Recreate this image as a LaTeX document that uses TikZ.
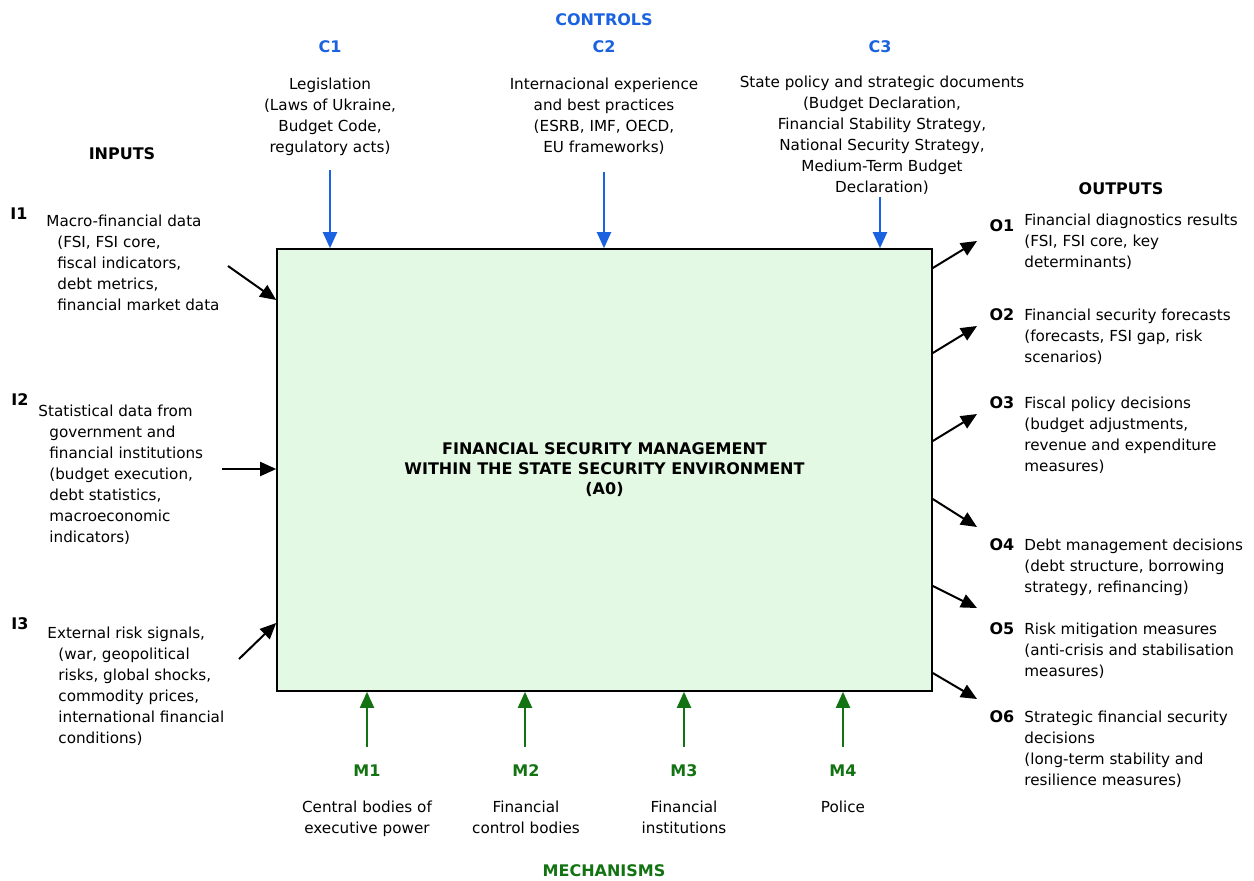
\documentclass[tikz,border=0pt]{standalone}
\usepackage{fontspec}
\setmainfont{DejaVu Sans}
\usetikzlibrary{arrows.meta}

\definecolor{ctlblue}{RGB}{26,98,224}
\definecolor{mechgreen}{RGB}{19,115,19}
\definecolor{boxgreen}{RGB}{227,249,227}

\tikzset{
  txt/.style={font=\fontsize{7.6}{10.5}\selectfont, inner sep=0pt},
  hdr/.style={font=\fontsize{8}{10}\selectfont\bfseries, inner sep=0pt},
  arr/.style={line width=1pt, -{Triangle[length=8pt,width=7pt]}},
}

\begin{document}
\begin{tikzpicture}[x=0.5pt,y=-0.5pt]
  \useasboundingbox (0,0) rectangle (1254,880);
  \node[draw, line width=0.8pt, fill=boxgreen, minimum width=327.5pt,
        minimum height=221pt, inner sep=0pt] (a0) at (604.5,470) {};
  \node[hdr, align=center] (a0t) at (604.5,470)
    {FINANCIAL SECURITY MANAGEMENT\\WITHIN THE STATE SECURITY ENVIRONMENT\\(A0)};

  % controls
  \node[hdr, ctlblue] (ctl) at (604,20) {CONTROLS};
  \node[hdr, ctlblue] (c1) at (330,47) {C1};
  \node[hdr, ctlblue] (c2) at (604,47) {C2};
  \node[hdr, ctlblue] (c3) at (880,47) {C3};
  \node[txt, align=center, anchor=north] (c1t) at (330,78)
    {Legislation\\(Laws of Ukraine,\\Budget Code,\\regulatory acts)};
  \node[txt, align=center, anchor=north] (c2t) at (604,78)
    {Internacional experience\\and best practices\\(ESRB, IMF, OECD,\\EU frameworks)};
  \node[txt, align=center, anchor=north] (c3t) at (882,76)
    {State policy and strategic documents\\(Budget Declaration,\\Financial Stability Strategy,\\National Security Strategy,\\Medium-Term Budget\\Declaration)};
  \coordinate (c1a) at (330,170);
  \coordinate (c2a) at (604,172);
  \coordinate (c3a) at (880,197);
  \draw[arr, ctlblue] (c1a) -- (c1a |- a0.north);
  \draw[arr, ctlblue] (c2a) -- (c2a |- a0.north);
  \draw[arr, ctlblue] (c3a) -- (c3a |- a0.north);

  % inputs
  \node[hdr] (inp) at (122,154) {INPUTS};
  \node[hdr] (i1) at (19,214) {I1};
  \node[hdr] (i2) at (20,400) {I2};
  \node[hdr] (i3) at (20,624) {I3};
  \node[txt, align=left, anchor=north west] (i1t) at (57,215)
    {\hspace*{-5.5pt}Macro-financial data\\(FSI, FSI core,\\fiscal indicators,\\debt metrics,\\financial market data};
  \node[txt, align=left, anchor=north west] (i2t) at (49,405)
    {\hspace*{-5.5pt}Statistical data from\\government and\\financial institutions\\(budget execution,\\debt statistics,\\macroeconomic\\indicators)};
  \node[txt, align=left, anchor=north west] (i3t) at (58,627)
    {\hspace*{-5.5pt}External risk signals,\\(war, geopolitical\\risks, global shocks,\\commodity prices,\\international financial\\conditions)};
  \coordinate (i1a) at (228,266);
  \coordinate (i2a) at (222,469);
  \coordinate (i3a) at (239,659);
  \draw[arr] (i1a) -- (a0.west |- 0,300);
  \draw[arr] (i2a) -- (a0.west |- i2a);
  \draw[arr] (i3a) -- (a0.west |- 0,623);

  % outputs
  \node[hdr] (outp) at (1121,189) {OUTPUTS};
  \node[hdr] (o1) at (1002,226) {O1};
  \node[hdr] (o2) at (1002,315) {O2};
  \node[hdr] (o3) at (1002,403) {O3};
  \node[hdr] (o4) at (1002,545) {O4};
  \node[hdr] (o5) at (1002,629) {O5};
  \node[hdr] (o6) at (1002,717) {O6};
  \node[txt, align=left, anchor=north west] (o1t) at (1024,214)
    {Financial diagnostics results\\(FSI, FSI core, key\\determinants)};
  \node[txt, align=left, anchor=north west] (o2t) at (1024,309)
    {Financial security forecasts\\(forecasts, FSI gap, risk\\scenarios)};
  \node[txt, align=left, anchor=north west] (o3t) at (1024,397)
    {Fiscal policy decisions\\(budget adjustments,\\revenue and expenditure\\measures)};
  \node[txt, align=left, anchor=north west] (o4t) at (1024,539)
    {Debt management decisions\\(debt structure, borrowing\\strategy, refinancing)};
  \node[txt, align=left, anchor=north west] (o5t) at (1024,623)
    {Risk mitigation measures\\(anti-crisis and stabilisation\\measures)};
  \node[txt, align=left, anchor=north west] (o6t) at (1024,711)
    {Strategic financial security\\decisions\\(long-term stability and\\resilience measures)};
  \coordinate (o1a) at (977,241);
  \coordinate (o2a) at (977,326);
  \coordinate (o3a) at (977,414);
  \coordinate (o4a) at (977,527);
  \coordinate (o5a) at (977,608);
  \coordinate (o6a) at (977,699);
  \draw[arr] (a0.east |- 0,268) -- (o1a);
  \draw[arr] (a0.east |- 0,353) -- (o2a);
  \draw[arr] (a0.east |- 0,441) -- (o3a);
  \draw[arr] (a0.east |- 0,499) -- (o4a);
  \draw[arr] (a0.east |- 0,586) -- (o5a);
  \draw[arr] (a0.east |- 0,673) -- (o6a);

  % mechanisms
  \node[hdr, mechgreen] (mech) at (604,871) {MECHANISMS};
  \node[hdr, mechgreen] (m1) at (367,771) {M1};
  \node[hdr, mechgreen] (m2) at (526,771) {M2};
  \node[hdr, mechgreen] (m3) at (684,771) {M3};
  \node[hdr, mechgreen] (m4) at (843,771) {M4};
  \node[txt, align=center, anchor=north] (m1t) at (367,801)
    {Central bodies of\\executive power};
  \node[txt, align=center, anchor=north] (m2t) at (526,801)
    {Financial\\control bodies};
  \node[txt, align=center, anchor=north] (m3t) at (684,801)
    {Financial\\institutions};
  \node[txt, align=center, anchor=north] (m4t) at (843,801) {Police};
  \coordinate (m1a) at (367,747);
  \coordinate (m2a) at (525,747);
  \coordinate (m3a) at (684,747);
  \coordinate (m4a) at (843,747);
  \draw[arr, mechgreen] (m1a) -- (m1a |- a0.south);
  \draw[arr, mechgreen] (m2a) -- (m2a |- a0.south);
  \draw[arr, mechgreen] (m3a) -- (m3a |- a0.south);
  \draw[arr, mechgreen] (m4a) -- (m4a |- a0.south);
\end{tikzpicture}
\end{document}
